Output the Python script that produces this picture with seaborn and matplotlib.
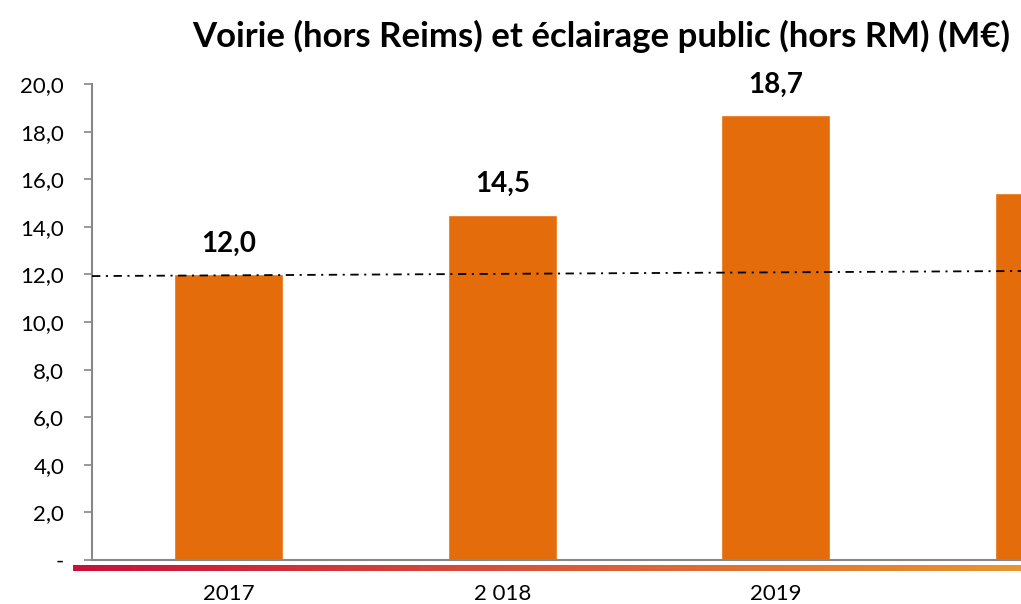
import numpy as np
import pandas as pd
import seaborn as sns
import matplotlib.pyplot as plt
from matplotlib.colors import LinearSegmentedColormap

categories = ["2017", "2 018", "2019", "2020"]
values = [12.0, 14.5, 18.7, 15.4]
labels = ["12,0", "14,5", "18,7", "15,4"]
yticks = [0, 2, 4, 6, 8, 10, 12, 14, 16, 18, 20]
ytick_labels = ["-", "2,0", "4,0", "6,0", "8,0", "10,0", "12,0", "14,0", "16,0", "18,0", "20,0"]
trend_x = [-0.5, 3.5]
trend_y = [11.93, 12.18]

sns.set_style("white")
plt.rcParams["font.family"] = ["Lato", "DejaVu Sans"]
plt.rcParams["lines.scale_dashes"] = False
plt.rcParams["text.color"] = "black"
plt.rcParams["xtick.labelcolor"] = "black"
plt.rcParams["ytick.labelcolor"] = "black"

fig = plt.figure(figsize=(10.21, 6.04), dpi=100)
fig.patch.set_facecolor("white")

# bande dégradée sous l'axe
gax = fig.add_axes([73 / 1021, 33 / 604, 948 / 1021, 6 / 604], zorder=0)
grad = np.linspace(0, 1, 256).reshape(1, -1)
cmap = LinearSegmentedColormap.from_list("strip", ["#C8103C", "#D9583A", "#E8962E"])
gax.imshow(grad, aspect="auto", cmap=cmap)
gax.set_axis_off()

ax = fig.add_axes([92 / 1021, 44 / 604, 1 - 92 / 1021, 476 / 604], zorder=1)
ax.set_facecolor("none")

df = pd.DataFrame({"annee": categories, "valeur": values})
sns.barplot(data=df, x="annee", y="valeur", color="#E46C0A", width=0.4,
            saturation=1, ax=ax)

for i, (v, lab) in enumerate(zip(values, labels)):
    ax.annotate(lab, (i, v), xytext=(0, 22), textcoords="offset points",
                ha="center", va="center", fontsize=20, fontweight="bold", color="black")

ax.plot(trend_x, trend_y, color="black", lw=1.3,
        linestyle=(0, (6, 4, 1.5, 4)), zorder=3)

ax.set_yticks(yticks)
ax.set_yticklabels(ytick_labels, fontsize=16)
ax.set_xticks(range(len(categories)))
ax.set_xticklabels(categories, fontsize=16)
ax.set_xticks([-0.5, 0.5, 1.5, 2.5, 3.5], minor=True)
ax.tick_params(axis="x", which="major", length=0, pad=17)
ax.tick_params(axis="x", which="minor", length=7, width=1.2, color="#888888", direction="out")
ax.tick_params(axis="y", length=6, width=1.2, color="#888888", direction="out", left=True, pad=14)
ax.set_xlim(-0.5, -0.5 + (1021 - 92) / 273.5)
ax.set_ylim(0, 20)
ax.set_xlabel("")
ax.set_ylabel("")
for s in ["top", "right"]:
    ax.spines[s].set_visible(False)
for s in ["left", "bottom"]:
    ax.spines[s].set_color("#888888")
    ax.spines[s].set_linewidth(1.5)

fig.text(601 / 1021, 1 - 36 / 604, "Voirie (hors Reims) et éclairage public (hors RM) (M€)",
         ha="center", va="center", fontsize=25, fontweight="bold", color="black")

fig.savefig("out.png", dpi=100)
